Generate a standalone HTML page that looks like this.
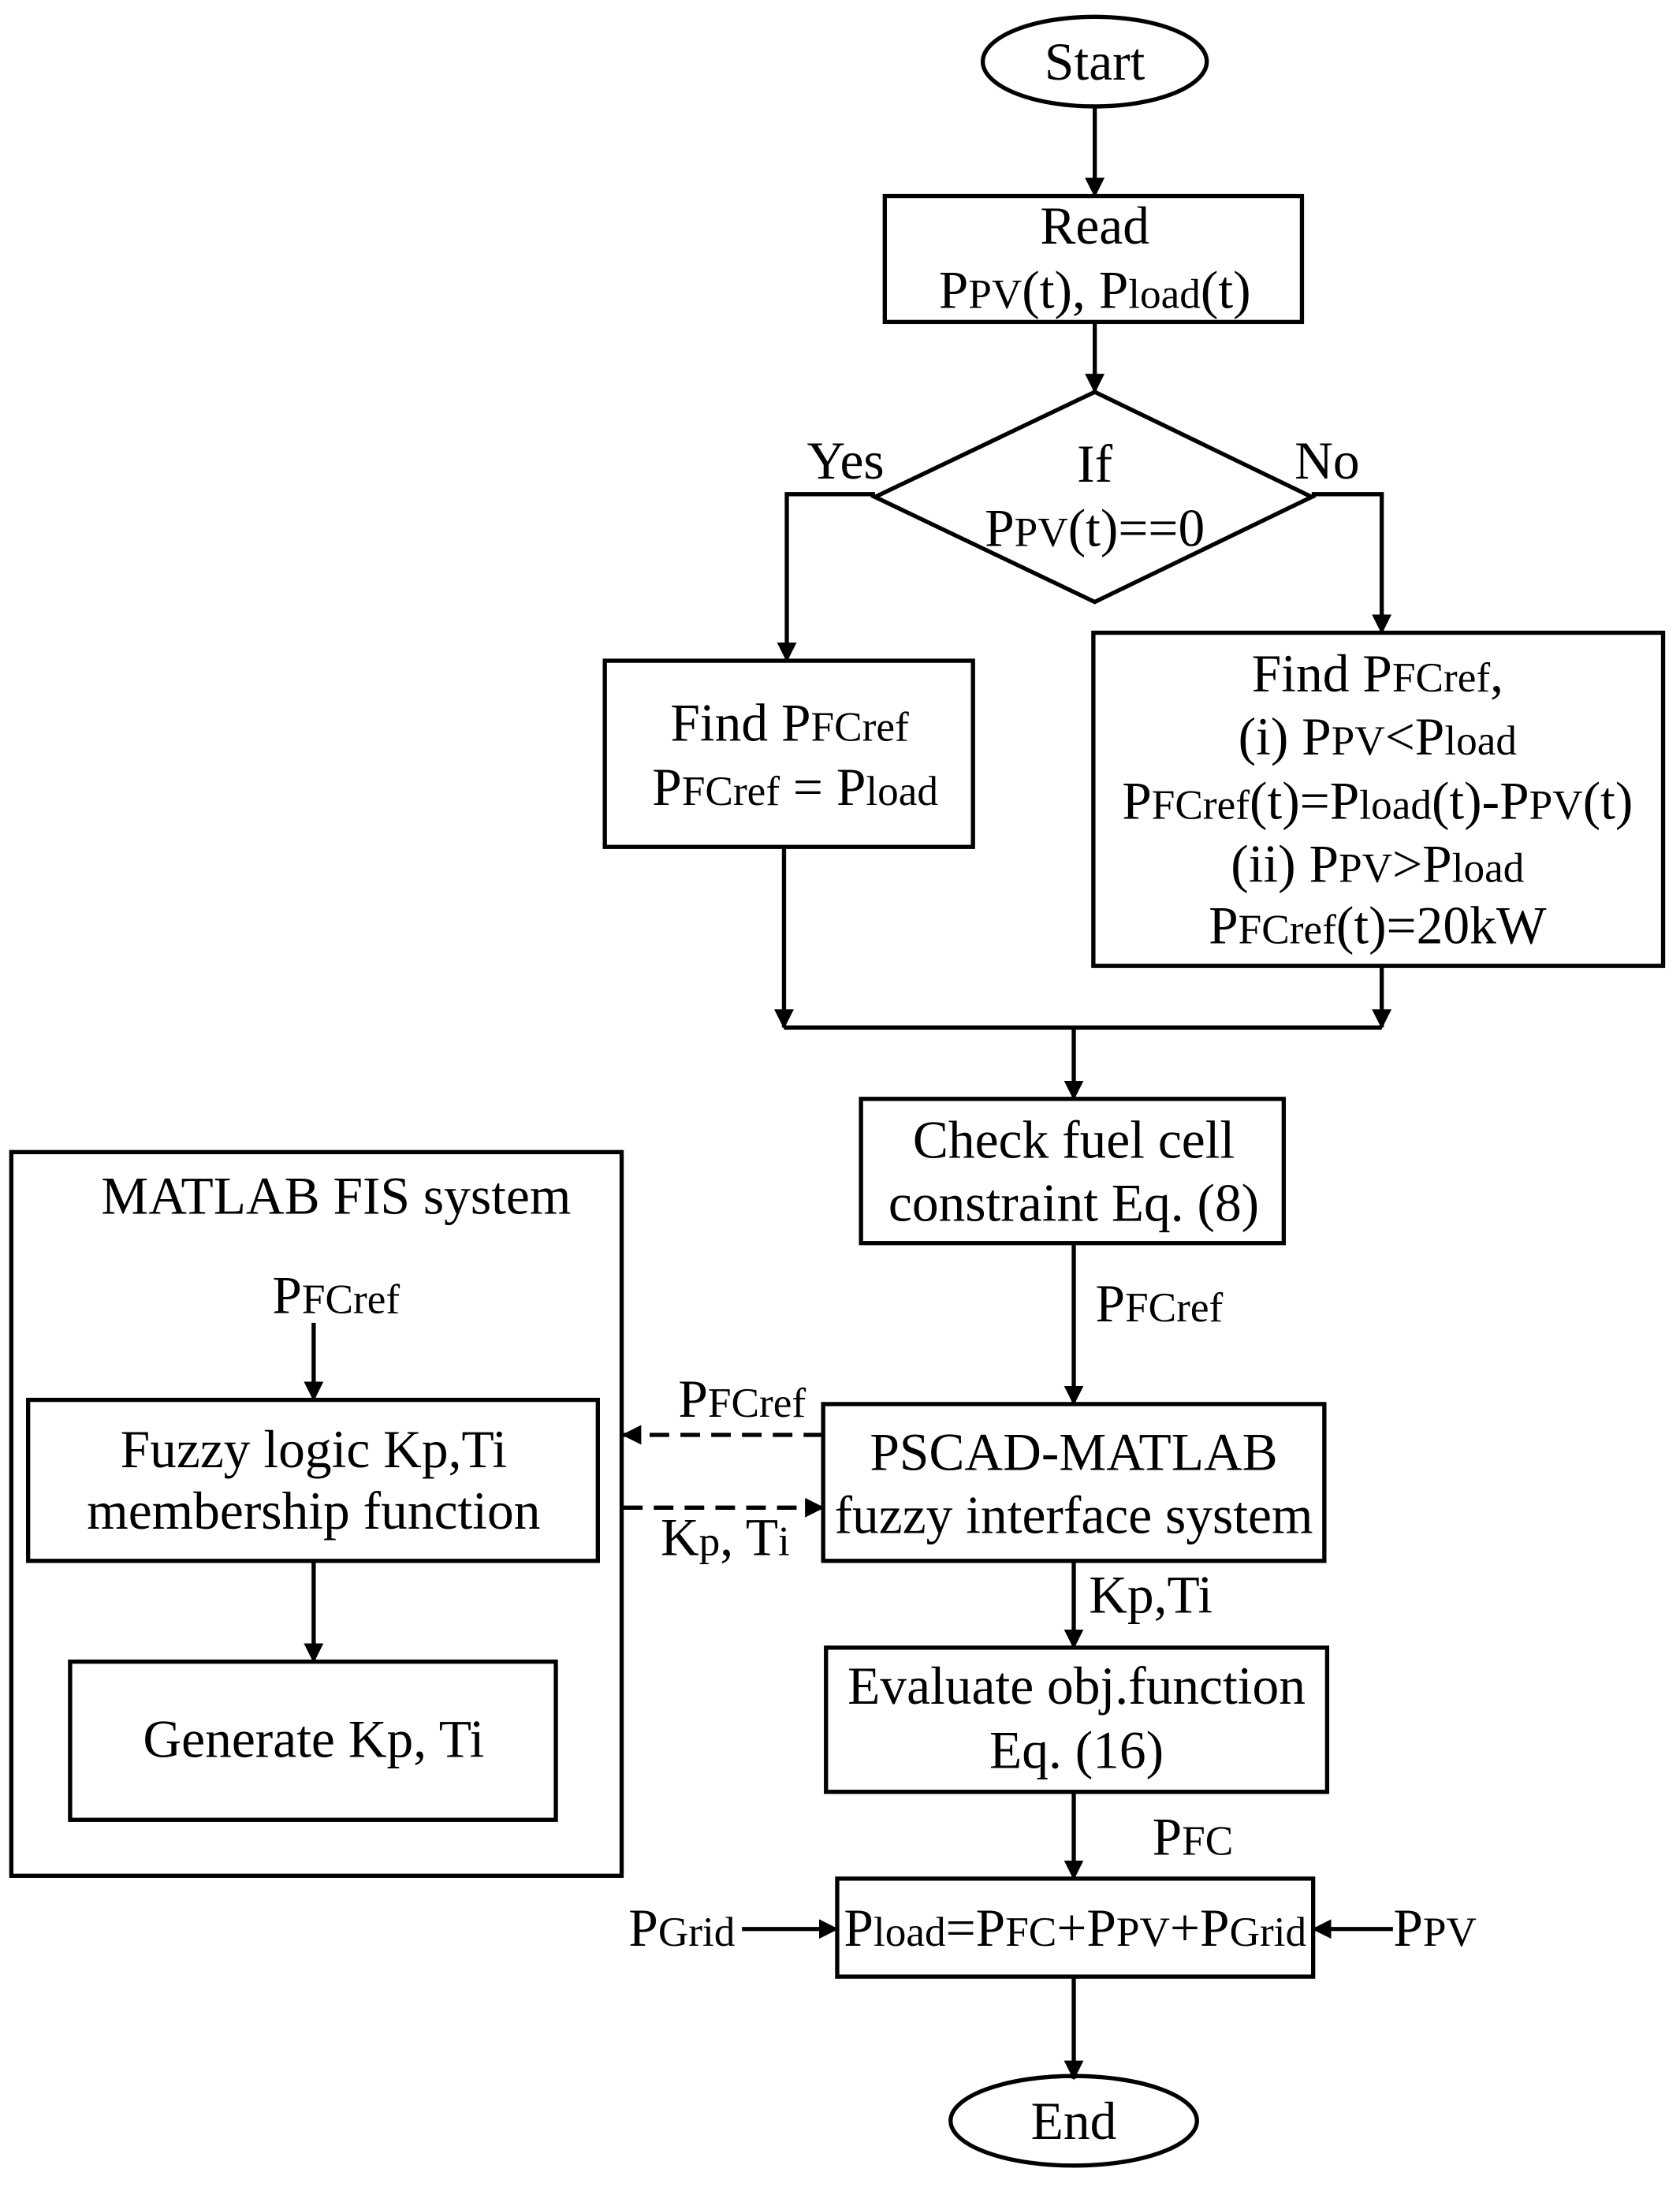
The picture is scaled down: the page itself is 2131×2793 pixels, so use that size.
<!DOCTYPE html>
<html><head><meta charset="utf-8"><style>
html,body{margin:0;padding:0;background:#fff;}
svg{display:block;}
text{font-family:"Liberation Serif",serif;font-size:38px;fill:#000;text-anchor:middle;}
.s{font-size:30px;}
</style></head><body>
<svg width="2131" height="2793" viewBox="0 0 1200 1573" xmlns="http://www.w3.org/2000/svg">
<defs>
<marker id="a" markerWidth="14" markerHeight="14" refX="13" refY="7" orient="auto" markerUnits="userSpaceOnUse">
<path d="M0,0 L14,7 L0,14 Z" fill="#000"/></marker>
</defs>
<g stroke="#000" stroke-width="3" fill="none">
<ellipse cx="782" cy="44" rx="80" ry="32"/>
<line x1="782" y1="76" x2="782" y2="140" marker-end="url(#a)"/>
<rect x="632" y="140" width="298" height="90"/>
<line x1="782" y1="230" x2="782" y2="280" marker-end="url(#a)"/>
<polygon points="782,280 937,355 782,430 625,355"/>
<polyline points="625,353 562,353 562,472" marker-end="url(#a)"/>
<polyline points="937,353 987,353 987,452" marker-end="url(#a)"/>
<rect x="432" y="472" width="263" height="133"/>
<rect x="781" y="452" width="407" height="238"/>
<line x1="560" y1="605" x2="560" y2="734" marker-end="url(#a)"/>
<line x1="987" y1="690" x2="987" y2="734" marker-end="url(#a)"/>
<line x1="560" y1="734" x2="987" y2="734"/>
<line x1="767" y1="734" x2="767" y2="785" marker-end="url(#a)"/>
<rect x="615" y="785" width="302" height="103"/>
<line x1="767" y1="888" x2="767" y2="1003" marker-end="url(#a)"/>
<rect x="588" y="1003" width="358" height="112"/>
<line x1="588" y1="1025" x2="445" y2="1025" stroke-dasharray="14,8" marker-end="url(#a)"/>
<line x1="445" y1="1077" x2="588" y2="1077" stroke-dasharray="14,8" marker-end="url(#a)"/>
<rect x="8" y="823" width="436" height="517"/>
<line x1="224" y1="945" x2="224" y2="1000" marker-end="url(#a)"/>
<rect x="20" y="1000" width="407" height="115"/>
<line x1="224" y1="1115" x2="224" y2="1187" marker-end="url(#a)"/>
<rect x="50" y="1187" width="347" height="113"/>
<line x1="767" y1="1115" x2="767" y2="1177" marker-end="url(#a)"/>
<rect x="590" y="1177" width="358" height="103"/>
<line x1="767" y1="1280" x2="767" y2="1342" marker-end="url(#a)"/>
<rect x="598" y="1342" width="340" height="70"/>
<line x1="530" y1="1378" x2="598" y2="1378" marker-end="url(#a)"/>
<line x1="995" y1="1378" x2="938" y2="1378" marker-end="url(#a)"/>
<line x1="767" y1="1412" x2="767" y2="1485" marker-end="url(#a)"/>
<ellipse cx="767" cy="1515" rx="88" ry="32"/>
</g>
<text x="782" y="57">Start</text>
<text x="782" y="174">Read</text>
<text x="782" y="220">P<tspan class="s">PV</tspan>(t), P<tspan class="s">load</tspan>(t)</text>
<text x="782" y="344">If</text>
<text x="782" y="390">P<tspan class="s">PV</tspan>(t)==0</text>
<text x="604" y="342">Yes</text>
<text x="948" y="342">No</text>
<text x="564" y="529">Find P<tspan class="s">FCref</tspan></text>
<text x="568" y="575">P<tspan class="s">FCref</tspan> = P<tspan class="s">load</tspan></text>
<text x="984" y="494">Find P<tspan class="s">FCref</tspan>,</text>
<text x="984" y="539">(i) P<tspan class="s">PV</tspan>&lt;P<tspan class="s">load</tspan></text>
<text x="984" y="585">P<tspan class="s">FCref</tspan>(t)=P<tspan class="s">load</tspan>(t)-P<tspan class="s">PV</tspan>(t)</text>
<text x="984" y="630">(ii) P<tspan class="s">PV</tspan>&gt;P<tspan class="s">load</tspan></text>
<text x="984" y="674">P<tspan class="s">FCref</tspan>(t)=20kW</text>
<text x="767" y="827">Check fuel cell</text>
<text x="767" y="872">constraint Eq. (8)</text>
<text x="828" y="944">P<tspan class="s">FCref</tspan></text>
<text x="767" y="1050">PSCAD-MATLAB</text>
<text x="767" y="1095">fuzzy interface system</text>
<text x="530" y="1012">P<tspan class="s">FCref</tspan></text>
<text x="518" y="1111">K<tspan class="s">p</tspan>, T<tspan class="s">i</tspan></text>
<text x="240" y="867">MATLAB FIS system</text>
<text x="240" y="938">P<tspan class="s">FCref</tspan></text>
<text x="224" y="1048">Fuzzy logic Kp,Ti</text>
<text x="224" y="1092">membership function</text>
<text x="224" y="1255">Generate Kp, Ti</text>
<text x="822" y="1152">Kp,Ti</text>
<text x="769" y="1217">Evaluate obj.function</text>
<text x="769" y="1263">Eq. (16)</text>
<text x="852" y="1325">P<tspan class="s">FC</tspan></text>
<text x="768" y="1390">P<tspan class="s">load</tspan>=P<tspan class="s">FC</tspan>+P<tspan class="s">PV</tspan>+P<tspan class="s">Grid</tspan></text>
<text x="487" y="1390">P<tspan class="s">Grid</tspan></text>
<text x="1025" y="1390">P<tspan class="s">PV</tspan></text>
<text x="767" y="1528">End</text>
</svg>
</body></html>
